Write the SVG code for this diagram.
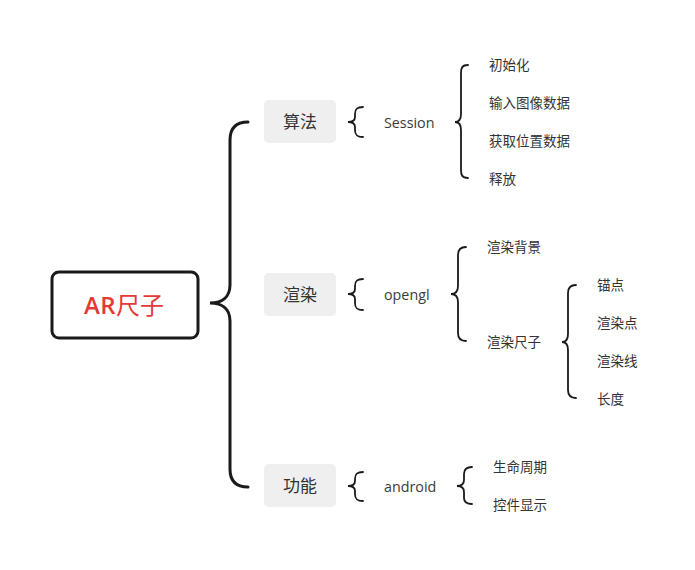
<svg xmlns="http://www.w3.org/2000/svg" width="695" height="570" viewBox="0 0 695 570">
<style>
text{font-family:"Open Sans","Noto Sans CJK SC",sans-serif;fill:#333}
.l1{font-size:17px;text-anchor:middle;dominant-baseline:central}
.l2{font-size:14.3px;dominant-baseline:central;fill:#3a3a3a}
.l3{font-size:13.5px;dominant-baseline:central}
.box{fill:#efefef}
.big{fill:none;stroke:#1a1a1a;stroke-width:3;stroke-linecap:round}
.br{fill:none;stroke:#1a1a1a;stroke-width:1.8;stroke-linecap:round}
</style>
<rect width="695" height="570" fill="#fff"/>
<g id="connectors">
<path class="big" d="M248,122 C236,122 230,128 230,140 L230,285 C230,297 222,303 210,303 C222,303 230,309 230,321 L230,469 C230,481 236,487 248,487"/>
<path class="br" d="M363,107 C356,107 355,110 355,114 L355,117 C355,120 353,122 348,122 C353,122 355,124 355,127 L355,130 C355,134 356,137 363,137"/>
<path class="br" d="M468,65 C462,65 461,68 461,73 L461,114 C461,119 459,122 455,122 C459,122 461,125 461,130 L461,170 C461,175 462,178 468,178"/>
<path class="br" d="M363,279 C356,279 355,282 355,286 L355,289 C355,292 353,294 348,294 C353,294 355,296 355,299 L355,303 C355,307 356,310 363,310"/>
<path class="br" d="M466,247 C460,247 458,250 458,255 L458,286 C458,291 456,294 451,294 C456,294 458,297 458,302 L458,333 C458,338 460,341 466,341"/>
<path class="br" d="M576,285 C570,285 568,288 568,293 L568,334 C568,339 566,342 562,342 C566,342 568,345 568,350 L568,390 C568,395 570,398 576,398"/>
<path class="br" d="M363,472 C356,472 355,475 355,479 L355,481 C355,484 353,486 348,486 C353,486 355,488 355,491 L355,494 C355,498 356,501 363,501"/>
<path class="br" d="M472,467 C466,467 464,470 464,474 L464,480 C464,484 462,486 457,486 C462,486 464,488 464,492 L464,498 C464,502 466,504 472,504"/>
</g>
<g id="root">
<rect x="52" y="272" width="146" height="66" rx="7" fill="#fff" stroke="#1a1a1a" stroke-width="3"/>
<text x="124" y="304" style="font-size:24px;text-anchor:middle;dominant-baseline:central;fill:#e53935"><tspan font-weight="600" letter-spacing="0.5">AR</tspan>尺子</text>
</g>
<g id="n-suanfa"><rect class="box" x="264" y="100" width="72" height="43" rx="5"/><text class="l1" x="300" y="121">算法</text></g>
<g id="n-xuanran"><rect class="box" x="264" y="273" width="72" height="43" rx="5"/><text class="l1" x="300" y="294">渲染</text></g>
<g id="n-gongneng"><rect class="box" x="264" y="464" width="72" height="43" rx="5"/><text class="l1" x="300" y="485">功能</text></g>
<g id="n-session"><text class="l2" x="384" y="122">Session</text></g>
<g id="n-opengl"><text class="l2" x="384" y="294">opengl</text></g>
<g id="n-android"><text class="l2" x="384" y="486">android</text></g>
<g id="n-init"><text class="l3" x="489" y="65">初始化</text></g>
<g id="n-input"><text class="l3" x="489" y="103">输入图像数据</text></g>
<g id="n-pos"><text class="l3" x="489" y="141">获取位置数据</text></g>
<g id="n-release"><text class="l3" x="489" y="179">释放</text></g>
<g id="n-bg"><text class="l3" x="487" y="247">渲染背景</text></g>
<g id="n-ruler"><text class="l3" x="487" y="342">渲染尺子</text></g>
<g id="n-anchor"><text class="l3" x="597" y="285">锚点</text></g>
<g id="n-point"><text class="l3" x="597" y="323">渲染点</text></g>
<g id="n-line"><text class="l3" x="597" y="361">渲染线</text></g>
<g id="n-len"><text class="l3" x="597" y="399">长度</text></g>
<g id="n-life"><text class="l3" x="493" y="467">生命周期</text></g>
<g id="n-ctrl"><text class="l3" x="493" y="505">控件显示</text></g>
</svg>
